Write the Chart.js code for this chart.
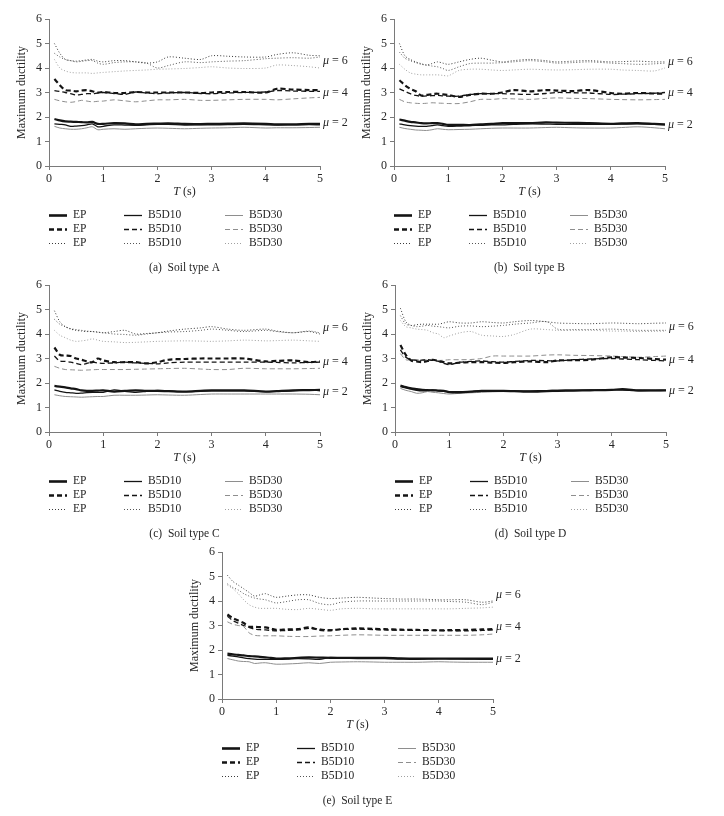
<!DOCTYPE html>
<html>
<head>
<meta charset="utf-8">
<script src="https://cdn.jsdelivr.net/npm/chart.js@4.4.1/dist/chart.umd.min.js"></script>
<style>
body { margin: 0; background: #fff; }
#page { position: relative; width: 724px; height: 816px; overflow: hidden; }
canvas { position: absolute; }
</style>
</head>
<body>
<div id="page">
  <canvas id="chartA" width="362" height="282" style="left:0;top:0"></canvas>
  <canvas id="chartB" width="362" height="282" style="left:345px;top:0"></canvas>
  <canvas id="chartC" width="362" height="282" style="left:0;top:266px"></canvas>
  <canvas id="chartD" width="362" height="282" style="left:346px;top:266px"></canvas>
  <canvas id="chartE" width="362" height="282" style="left:173px;top:533px"></canvas>
</div>
<script>
// periods T (s)
const periods = [0.1, 0.2, 0.3, 0.4, 0.5, 0.6, 0.7, 0.8, 0.9, 1.0, 1.2, 1.4, 1.6, 1.8, 2.0, 2.2, 2.5, 2.8, 3.0, 3.3, 3.6, 4.0, 4.2, 4.5, 4.8, 5.0];

const models = ['EP', 'B5D10', 'B5D30'];
const ductilities = [2, 4, 6];
const captions = ['(a)  Soil type A', '(b)  Soil type B', '(c)  Soil type C', '(d)  Soil type D', '(e)  Soil type E'];
// where the "mu = x" labels sit (in y units)
const muLabelA = [1.75, 3.0, 4.3];
const muLabelB = [1.69, 2.99, 4.27];
const muLabelC = [1.62, 2.85, 4.26];
const muLabelD = [1.67, 2.93, 4.3];
const muLabelE = [1.63, 2.94, 4.26];

// Soil type A
const a_EP_2    = [1.92,1.86,1.82,1.81,1.80,1.79,1.78,1.80,1.72,1.72,1.75,1.74,1.70,1.72,1.73,1.74,1.72,1.71,1.72,1.73,1.74,1.72,1.70,1.70,1.72,1.72];
const a_B5D10_2 = [1.72,1.70,1.68,1.62,1.63,1.65,1.68,1.72,1.60,1.62,1.68,1.67,1.66,1.68,1.70,1.70,1.67,1.68,1.68,1.69,1.70,1.68,1.67,1.68,1.69,1.68];
const a_B5D30_2 = [1.62,1.55,1.52,1.50,1.50,1.52,1.56,1.60,1.48,1.50,1.52,1.50,1.52,1.54,1.55,1.54,1.52,1.54,1.55,1.56,1.58,1.55,1.56,1.56,1.57,1.58];
const a_EP_4    = [3.55,3.30,3.10,3.08,3.05,3.08,3.10,3.05,3.00,3.02,2.98,2.98,3.02,3.00,3.00,3.00,3.00,2.98,3.00,3.02,3.02,3.00,3.15,3.12,3.10,3.10];
const a_B5D10_4 = [3.08,3.04,3.00,2.95,2.90,2.92,2.95,2.95,2.98,3.00,2.96,2.92,3.02,2.98,2.95,2.98,3.00,2.96,2.95,2.98,3.00,3.02,3.08,3.06,3.05,3.05];
const a_B5D30_4 = [2.72,2.66,2.62,2.60,2.63,2.68,2.65,2.62,2.64,2.65,2.70,2.66,2.62,2.66,2.70,2.70,2.72,2.68,2.68,2.70,2.72,2.72,2.70,2.74,2.78,2.80];
const a_EP_6    = [5.00,4.60,4.35,4.30,4.28,4.30,4.33,4.35,4.28,4.25,4.30,4.30,4.25,4.20,4.25,4.45,4.40,4.35,4.50,4.48,4.45,4.45,4.55,4.62,4.52,4.50];
const a_B5D10_6 = [4.60,4.45,4.35,4.30,4.25,4.27,4.30,4.30,4.20,4.15,4.22,4.25,4.25,4.20,4.00,4.10,4.25,4.22,4.25,4.28,4.30,4.38,4.40,4.42,4.40,4.45];
const a_B5D30_6 = [4.35,4.00,3.88,3.82,3.80,3.80,3.80,3.78,3.80,3.82,3.85,3.88,3.90,3.92,3.95,3.96,3.98,4.02,4.05,4.00,3.98,4.00,4.12,4.10,4.05,4.00];

// Soil type B
const b_EP_2    = [1.90,1.85,1.80,1.78,1.75,1.74,1.75,1.75,1.72,1.68,1.68,1.67,1.70,1.72,1.75,1.75,1.75,1.78,1.77,1.76,1.75,1.72,1.74,1.75,1.72,1.70];
const b_B5D10_2 = [1.72,1.68,1.65,1.63,1.62,1.62,1.65,1.68,1.65,1.62,1.63,1.65,1.66,1.68,1.68,1.70,1.72,1.71,1.70,1.70,1.70,1.70,1.71,1.72,1.70,1.68];
const b_B5D30_2 = [1.58,1.53,1.50,1.47,1.46,1.45,1.48,1.52,1.50,1.48,1.49,1.50,1.52,1.54,1.55,1.55,1.55,1.57,1.58,1.56,1.55,1.55,1.57,1.60,1.56,1.52];
const b_EP_4    = [3.50,3.30,3.15,3.05,2.88,2.90,2.93,2.95,2.92,2.90,2.82,2.90,2.95,2.95,3.00,3.10,3.05,3.10,3.08,3.06,3.10,2.98,2.95,2.98,2.96,2.95];
const b_B5D10_4 = [3.15,3.05,2.95,2.88,2.85,2.86,2.87,2.88,2.86,2.85,2.85,2.92,2.95,2.95,2.95,2.94,2.92,2.96,3.00,2.99,2.98,2.92,2.93,2.95,2.97,3.00];
const b_B5D30_4 = [2.72,2.62,2.58,2.56,2.55,2.56,2.58,2.57,2.56,2.55,2.55,2.62,2.72,2.72,2.75,2.74,2.72,2.76,2.78,2.76,2.75,2.72,2.71,2.70,2.71,2.72];
const b_EP_6    = [5.00,4.50,4.35,4.25,4.18,4.12,4.18,4.25,4.20,4.15,4.25,4.35,4.40,4.32,4.25,4.30,4.35,4.30,4.25,4.28,4.30,4.25,4.26,4.28,4.25,4.25];
const b_B5D10_6 = [4.65,4.40,4.30,4.22,4.15,4.12,4.08,4.05,3.98,3.90,4.05,4.18,4.20,4.20,4.22,4.25,4.30,4.25,4.20,4.22,4.25,4.20,4.18,4.15,4.17,4.20];
const b_B5D30_6 = [4.15,3.95,3.80,3.75,3.72,3.72,3.72,3.72,3.70,3.68,3.90,3.95,3.95,3.92,3.90,3.92,3.95,3.93,3.92,3.93,3.95,3.95,3.92,3.90,3.88,4.00];

// Soil type C
const c_EP_2    = [1.88,1.85,1.82,1.78,1.75,1.70,1.68,1.68,1.69,1.70,1.65,1.68,1.70,1.68,1.68,1.67,1.65,1.68,1.70,1.70,1.70,1.65,1.67,1.70,1.71,1.72];
const c_B5D10_2 = [1.72,1.66,1.62,1.60,1.58,1.59,1.61,1.62,1.62,1.62,1.72,1.66,1.62,1.66,1.70,1.68,1.65,1.67,1.68,1.68,1.68,1.65,1.66,1.68,1.72,1.68];
const c_B5D30_2 = [1.52,1.48,1.45,1.44,1.43,1.42,1.43,1.44,1.45,1.45,1.50,1.50,1.50,1.51,1.52,1.51,1.50,1.53,1.55,1.55,1.55,1.55,1.55,1.55,1.54,1.52];
const c_EP_4    = [3.45,3.15,3.12,3.10,3.00,2.95,2.88,2.85,3.00,2.92,2.85,2.85,2.85,2.80,2.85,2.95,2.98,3.00,3.00,3.00,3.00,2.88,2.90,2.92,2.85,2.88];
const c_B5D10_4 = [3.10,2.90,2.88,2.85,2.80,2.75,2.80,2.85,2.82,2.80,2.82,2.85,2.82,2.80,2.78,2.82,2.85,2.85,2.85,2.85,2.85,2.85,2.84,2.82,2.84,2.85];
const c_B5D30_4 = [2.68,2.60,2.55,2.54,2.53,2.52,2.53,2.54,2.55,2.55,2.55,2.55,2.56,2.57,2.58,2.59,2.60,2.57,2.55,2.55,2.60,2.58,2.58,2.58,2.59,2.60];
const c_EP_6    = [4.95,4.50,4.30,4.20,4.15,4.12,4.10,4.10,4.08,4.05,4.10,4.15,4.00,4.02,4.05,4.12,4.20,4.25,4.30,4.20,4.15,4.20,4.12,4.05,4.10,4.00];
const c_B5D10_6 = [4.60,4.40,4.30,4.22,4.18,4.15,4.12,4.10,4.07,4.05,4.00,3.98,3.95,4.00,4.05,4.08,4.10,4.15,4.20,4.15,4.10,4.15,4.10,4.05,4.12,4.05];
const c_B5D30_6 = [4.15,3.95,3.85,3.75,3.70,3.72,3.75,3.80,3.75,3.70,3.68,3.65,3.66,3.68,3.70,3.71,3.72,3.71,3.70,3.72,3.75,3.72,3.73,3.75,3.72,3.70];

// Soil type D
const d_EP_2    = [1.90,1.83,1.78,1.75,1.72,1.71,1.70,1.69,1.68,1.63,1.62,1.65,1.68,1.68,1.68,1.67,1.65,1.67,1.68,1.69,1.70,1.72,1.75,1.70,1.70,1.70];
const d_B5D10_2 = [1.85,1.80,1.75,1.70,1.68,1.70,1.72,1.68,1.66,1.65,1.65,1.65,1.68,1.68,1.68,1.68,1.68,1.69,1.70,1.71,1.72,1.72,1.71,1.68,1.69,1.70];
const d_B5D30_2 = [1.78,1.70,1.65,1.58,1.60,1.65,1.62,1.60,1.57,1.55,1.58,1.60,1.62,1.64,1.65,1.65,1.65,1.65,1.65,1.68,1.70,1.72,1.72,1.72,1.71,1.70];
const d_EP_4    = [3.55,3.15,2.92,2.88,2.85,2.90,2.95,2.90,2.85,2.80,2.83,2.85,2.85,2.83,2.82,2.85,2.88,2.85,2.92,2.93,2.95,3.05,3.04,3.02,2.98,2.95];
const d_B5D10_4 = [3.35,3.05,2.95,2.92,2.93,2.95,2.92,2.88,2.80,2.75,2.85,2.88,2.90,2.87,2.85,2.88,2.92,2.91,2.90,2.95,2.98,3.00,2.98,2.95,2.92,2.90];
const d_B5D30_4 = [3.20,2.95,2.95,2.95,2.95,2.94,2.93,2.92,2.93,2.95,2.95,2.96,3.00,3.10,3.10,3.10,3.10,3.14,3.15,3.13,3.12,3.10,3.08,3.05,3.08,3.10];
const d_EP_6    = [5.05,4.50,4.35,4.38,4.40,4.40,4.40,4.40,4.45,4.50,4.45,4.45,4.50,4.47,4.45,4.50,4.55,4.50,4.45,4.43,4.42,4.45,4.44,4.42,4.44,4.45];
const d_B5D10_6 = [4.75,4.40,4.35,4.30,4.32,4.35,4.32,4.30,4.27,4.25,4.32,4.33,4.30,4.32,4.35,4.40,4.45,4.50,4.20,4.18,4.18,4.20,4.18,4.15,4.15,4.15];
const d_B5D30_6 = [4.55,4.30,4.25,4.20,4.18,4.15,4.05,4.00,3.85,3.92,4.05,4.10,3.95,3.92,3.90,3.98,4.20,4.18,4.15,4.15,4.15,4.12,4.12,4.10,4.11,4.12];

// Soil type E
const e_EP_2    = [1.85,1.82,1.80,1.78,1.75,1.74,1.72,1.70,1.68,1.65,1.66,1.68,1.70,1.69,1.68,1.68,1.68,1.68,1.68,1.66,1.65,1.65,1.65,1.65,1.65,1.65];
const e_B5D10_2 = [1.78,1.75,1.72,1.68,1.65,1.63,1.62,1.62,1.62,1.62,1.63,1.65,1.64,1.62,1.70,1.67,1.65,1.65,1.65,1.63,1.62,1.65,1.64,1.63,1.62,1.62];
const e_B5D30_2 = [1.65,1.60,1.55,1.53,1.52,1.45,1.47,1.48,1.45,1.42,1.43,1.45,1.48,1.45,1.50,1.51,1.52,1.51,1.50,1.50,1.50,1.52,1.51,1.50,1.50,1.50];
const e_EP_4    = [3.45,3.30,3.20,3.10,2.95,2.95,2.93,2.92,2.88,2.82,2.84,2.85,2.92,2.82,2.80,2.85,2.88,2.86,2.85,2.83,2.82,2.80,2.81,2.82,2.84,2.85];
const e_B5D10_4 = [3.38,3.20,3.10,3.00,2.92,2.85,2.83,2.82,2.80,2.78,2.80,2.82,2.88,2.85,2.82,2.84,2.85,2.83,2.82,2.81,2.80,2.80,2.79,2.78,2.80,2.82];
const e_B5D30_4 = [3.15,3.05,3.00,2.95,2.70,2.60,2.58,2.58,2.58,2.58,2.56,2.55,2.55,2.57,2.58,2.60,2.62,2.61,2.60,2.60,2.60,2.60,2.60,2.60,2.62,2.65];
const e_EP_6    = [5.05,4.80,4.65,4.50,4.35,4.20,4.25,4.30,4.22,4.15,4.20,4.25,4.25,4.15,4.10,4.12,4.15,4.12,4.10,4.08,4.08,4.05,4.05,4.05,3.95,4.00];
const e_B5D10_6 = [4.70,4.55,4.45,4.30,4.20,4.12,4.08,4.05,3.98,3.92,3.98,4.05,4.05,3.90,3.85,3.95,4.00,4.00,4.00,4.00,4.00,4.00,3.98,3.95,3.85,3.95];
const e_B5D30_6 = [4.65,4.50,4.30,4.05,3.85,3.75,3.70,3.70,3.70,3.70,3.66,3.65,3.70,3.66,3.62,3.68,3.70,3.68,3.68,3.68,3.68,3.68,3.68,3.70,3.72,3.75];

const FONT = '"Liberation Serif", "Times New Roman", serif';
const INK = '#262626';
const AXIS = '#7a7a7a';

function lineStyle(model, mu) {
    let color = model === 'B5D30' ? '#8e8e8e' : '#141414';
    let width = model === 'EP' ? 2.2 : (model === 'B5D10' ? 1.3 : 1);
    let dash = [];
    if (mu === 4) dash = [5, 3];
    if (mu === 6) {
        dash = [1, 2];
        width = 1;
        color = model === 'B5D30' ? '#a0a0a0' : (model === 'EP' ? '#3a3a3a' : '#555');
    }
    return { color: color, width: width, dash: dash };
}

// legend, captions, axis titles and mu labels
const panelDecor = {
    id: 'panelDecor',
    afterDraw(chart, args, opts) {
        const ctx = chart.ctx;
        const a = chart.chartArea;
        const y = chart.scales.y;
        ctx.save();
        ctx.fillStyle = INK;
        ctx.textBaseline = 'middle';

        // y title
        ctx.save();
        ctx.translate(a.left - 27, (a.top + a.bottom) / 2);
        ctx.rotate(-Math.PI / 2);
        ctx.textAlign = 'center';
        ctx.font = '12px ' + FONT;
        ctx.fillText('Maximum ductility', 0, 0);
        ctx.restore();

        // x title: italic T
        const cx = (a.left + a.right) / 2;
        ctx.font = 'italic 12px ' + FONT;
        const wT = ctx.measureText('T').width;
        ctx.font = '12px ' + FONT;
        const wS = ctx.measureText(' (s)').width;
        let x0 = cx - (wT + wS) / 2;
        ctx.textAlign = 'left';
        ctx.font = 'italic 12px ' + FONT;
        ctx.fillText('T', x0, a.bottom + 26);
        ctx.font = '12px ' + FONT;
        ctx.fillText(' (s)', x0 + wT, a.bottom + 26);

        // mu labels
        ductilities.forEach((mu, i) => {
            const py = y.getPixelForValue(opts.muLevels[i]);
            ctx.font = 'italic 12px ' + FONT;
            ctx.fillText('\u03bc', a.right + 3, py);
            const w = ctx.measureText('\u03bc').width;
            ctx.font = '12px ' + FONT;
            ctx.fillText(' = ' + mu, a.right + 3 + w, py);
        });

        // legend grid
        const cols = [0, 75, 176];
        ductilities.forEach((mu, r) => {
            const ry = a.bottom + 49 + 14 * r;
            models.forEach((m, c) => {
                const s = lineStyle(m, mu);
                const lx = a.left + cols[c];
                ctx.beginPath();
                ctx.strokeStyle = s.color;
                ctx.lineWidth = (m === 'EP' && mu !== 6) ? s.width + 0.4 : s.width;
                ctx.setLineDash(s.dash);
                ctx.moveTo(lx, Math.round(ry) + 0.5);
                ctx.lineTo(lx + 18, Math.round(ry) + 0.5);
                ctx.stroke();
                ctx.setLineDash([]);
                ctx.font = '11.5px ' + FONT;
                ctx.fillStyle = INK;
                ctx.fillText(m, lx + 24, ry);
            });
        });

        // caption
        ctx.textAlign = 'center';
        ctx.font = '11.5px ' + FONT;
        ctx.fillText(opts.caption, cx, a.bottom + 102);
        ctx.restore();
    }
};

function makeChart(id, series, caption, muLevels) {
    const datasets = [];
    ductilities.forEach((mu, i) => {
        models.forEach((m, j) => {
            const s = lineStyle(m, mu);
            datasets.push({
                label: m + ' mu=' + mu,
                data: periods.map((t, k) => ({ x: t, y: series[i][j][k] })),
                borderColor: s.color,
                borderWidth: s.width,
                borderDash: s.dash,
                pointRadius: 0,
                tension: 0.3,
                fill: false
            });
        });
    });
    return new Chart(document.getElementById(id), {
        type: 'line',
        data: { datasets: datasets },
        options: {
            responsive: false,
            animation: false,
            layout: { padding: { top: 19, right: 42, bottom: 94, left: 0 } },
            plugins: {
                legend: { display: false },
                tooltip: { enabled: false },
                panelDecor: { caption: caption, muLevels: muLevels }
            },
            scales: {
                x: {
                    type: 'linear',
                    min: 0,
                    max: 5,
                    afterFit: (scale) => { scale.height = 22; },
                    ticks: { stepSize: 1, color: INK, padding: 2, maxRotation: 0, font: { family: FONT, size: 12 } },
                    grid: { drawOnChartArea: false, drawTicks: true, tickLength: 4, color: AXIS },
                    border: { color: AXIS }
                },
                y: {
                    min: 0,
                    max: 6,
                    afterFit: (scale) => { scale.width = 49; },
                    ticks: { stepSize: 1, color: INK, padding: 3, font: { family: FONT, size: 12 } },
                    grid: { drawOnChartArea: false, drawTicks: true, tickLength: 4, color: AXIS },
                    border: { color: AXIS }
                }
            }
        },
        plugins: [panelDecor]
    });
}

makeChart('chartA', [[a_EP_2, a_B5D10_2, a_B5D30_2], [a_EP_4, a_B5D10_4, a_B5D30_4], [a_EP_6, a_B5D10_6, a_B5D30_6]], captions[0], muLabelA);
makeChart('chartB', [[b_EP_2, b_B5D10_2, b_B5D30_2], [b_EP_4, b_B5D10_4, b_B5D30_4], [b_EP_6, b_B5D10_6, b_B5D30_6]], captions[1], muLabelB);
makeChart('chartC', [[c_EP_2, c_B5D10_2, c_B5D30_2], [c_EP_4, c_B5D10_4, c_B5D30_4], [c_EP_6, c_B5D10_6, c_B5D30_6]], captions[2], muLabelC);
makeChart('chartD', [[d_EP_2, d_B5D10_2, d_B5D30_2], [d_EP_4, d_B5D10_4, d_B5D30_4], [d_EP_6, d_B5D10_6, d_B5D30_6]], captions[3], muLabelD);
makeChart('chartE', [[e_EP_2, e_B5D10_2, e_B5D30_2], [e_EP_4, e_B5D10_4, e_B5D30_4], [e_EP_6, e_B5D10_6, e_B5D30_6]], captions[4], muLabelE);
</script>
</body>
</html>
